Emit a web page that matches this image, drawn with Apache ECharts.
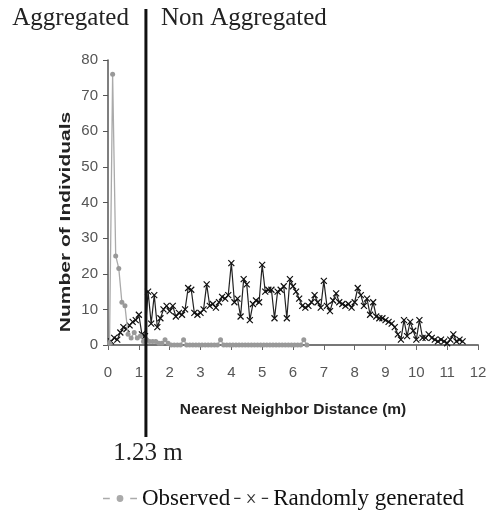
<!DOCTYPE html>
<html>
<head>
<meta charset="UTF-8">
<title>Nearest neighbor distance</title>
<style type="text/css">
	html, body { margin: 0; padding: 0; background: #fff; }
	#main { width: 491px; height: 510px; }
</style>
<script type="text/javascript" src="https://cdn.jsdelivr.net/npm/echarts@6/dist/echarts.min.js"></script>
</head>
<body>
<div id="main"></div>
<script type="text/javascript">
	// observed counts (grey circles)
	var obsDist = [0.05, 0.15, 0.25, 0.35, 0.45, 0.55, 0.65, 0.75, 0.85, 0.95,
		1.05, 1.15, 1.25, 1.35, 1.45, 1.55, 1.65, 1.75, 1.85, 1.95,
		2.05, 2.15, 2.25, 2.35, 2.45, 2.55, 2.65, 2.75, 2.85, 2.95,
		3.05, 3.15, 3.25, 3.35, 3.45, 3.55, 3.65, 3.75, 3.85, 3.95,
		4.05, 4.15, 4.25, 4.35, 4.45, 4.55, 4.65, 4.75, 4.85, 4.95,
		5.05, 5.15, 5.25, 5.35, 5.45, 5.55, 5.65, 5.75, 5.85, 5.95,
		6.05, 6.15, 6.25, 6.35, 6.45];
	var obsCount = [0.5, 76, 25, 21.5, 12, 11, 3, 2, 3.5, 2,
		2.5, 1, 1.5, 1, 1, 1, 0.5, 0.5, 1.5, 0.5,
		0, 0, 0, 0, 1.5, 0, 0, 0, 0, 0,
		0, 0, 0, 0, 0, 0, 1.5, 0, 0, 0,
		0, 0, 0, 0, 0, 0, 0, 0, 0, 0,
		0, 0, 0, 0, 0, 0, 0, 0, 0, 0,
		0, 0, 0, 1.5, 0];

	// randomly generated counts (black x)
	var randDist = [0.1, 0.2, 0.3, 0.4, 0.5, 0.6, 0.7, 0.8, 0.9, 1.0,
		1.1, 1.2, 1.3, 1.4, 1.5, 1.6, 1.7, 1.8, 1.9, 2.0,
		2.1, 2.2, 2.3, 2.4, 2.5, 2.6, 2.7, 2.8, 2.9, 3.0,
		3.1, 3.2, 3.3, 3.4, 3.5, 3.6, 3.7, 3.8, 3.9, 4.0,
		4.1, 4.2, 4.3, 4.4, 4.5, 4.6, 4.7, 4.8, 4.9, 5.0,
		5.1, 5.2, 5.3, 5.4, 5.5, 5.6, 5.7, 5.8, 5.9, 6.0,
		6.1, 6.2, 6.3, 6.4, 6.5, 6.6, 6.7, 6.8, 6.9, 7.0,
		7.1, 7.2, 7.3, 7.4, 7.5, 7.6, 7.7, 7.8, 7.9, 8.0,
		8.1, 8.2, 8.3, 8.4, 8.5, 8.6, 8.7, 8.8, 8.9, 9.0,
		9.1, 9.2, 9.3, 9.4, 9.5, 9.6, 9.7, 9.8, 9.9, 10.0,
		10.1, 10.2, 10.3, 10.4, 10.5, 10.6, 10.7, 10.8, 10.9, 11.0,
		11.1, 11.2, 11.3, 11.4, 11.5];
	var randCount = [1, 2, 1.5, 3.5, 5, 4.5, 5.5, 6.5, 7, 8.5,
		3, 2.5, 15, 6, 14, 5, 7.5, 10, 11, 9.5,
		11, 8, 9, 8.5, 10, 16, 15.5, 9, 8.5, 9,
		10, 17, 11, 11.5, 10.5, 12, 13.5, 13, 14, 23,
		12, 13, 8, 18.5, 17, 7, 11.5, 12.5, 12, 22.5,
		15, 15.5, 15.5, 7.5, 15, 15.5, 16.5, 7.5, 18.5, 16.5,
		15, 13, 11, 10.5, 11, 12, 14, 12, 10.5, 18,
		11, 9.5, 12.5, 14.5, 12, 11.5, 11, 11.5, 10.5, 12,
		16, 14, 11, 13, 8.5, 12, 8, 7.5, 7.5, 7,
		6.5, 6, 5, 3, 1.5, 7, 2.5, 6.5, 4, 1.5,
		7, 2, 2, 3, 2, 1.5, 1, 1.5, 1, 0.5,
		1.5, 3, 1, 1.5, 1];

	var cutoff = 1.23;

	var chart = echarts.init(document.getElementById('main'));

	var obsIcon = 'path://M2,6.4h6v1.2h-6z M26,6.4h6v1.2h-6z M17,4a3,3 0 1,0 0.01,0z';
	var randIcon = 'path://M1,6.4h6v1.1h-6z M27,6.4h6v1.1h-6z M13,3h1.4l6.6,8h-1.4z M19.6,3h1.4l-6.6,8h-1.4z';

	var option = {
		animation: false,
		grid: { left: 108, right: 13, top: 60, bottom: 165 },
		legend: {
			left: 98,
			top: 482,
			itemWidth: 34,
			itemHeight: 14,
			itemGap: 4,
			textStyle: { fontFamily: 'Liberation Serif', fontSize: 23, color: '#111' },
			data: [
				{ name: 'Observed', icon: obsIcon, itemStyle: { color: '#aaa', borderWidth: 0 } },
				{ name: 'Randomly generated', icon: randIcon, itemStyle: { color: '#333', borderWidth: 0 } }
			]
		},
		xAxis: {
			type: 'value',
			min: 0,
			max: 12,
			interval: 1,
			name: 'Nearest Neighbor Distance (m)',
			nameLocation: 'middle',
			nameGap: 57,
			nameTextStyle: { fontFamily: 'Liberation Sans', fontWeight: 'bold', fontSize: 15.5, color: '#222' },
			axisLine: { onZero: false, lineStyle: { color: '#777', width: 2 } },
			axisTick: { length: 5, lineStyle: { color: '#666' } },
			axisLabel: { margin: 20, fontFamily: 'Liberation Sans', fontSize: 15, color: '#555' },
			splitLine: { show: false }
		},
		yAxis: {
			type: 'value',
			min: 0,
			max: 80,
			interval: 10,
			axisLine: { show: true, lineStyle: { color: '#555', width: 1.5 } },
			axisTick: { show: true, length: 5, lineStyle: { color: '#555' } },
			axisLabel: { margin: 10, fontFamily: 'Liberation Sans', fontSize: 15, color: '#555' },
			splitLine: { show: false }
		},
		series: [
			{
				name: 'Randomly generated',
				type: 'line',
				data: randDist.map(function (d, i) { return [d, randCount[i]]; }),
				symbol: 'path://M0,0L10,10M10,0L0,10',
				symbolSize: 6,
				itemStyle: { color: '#111', borderColor: '#111', borderWidth: 1.2 },
				lineStyle: { color: '#222', width: 1.2 },
				z: 2
			},
			{
				name: 'Observed',
				type: 'line',
				data: obsDist.map(function (d, i) { return [d, obsCount[i]]; }),
				symbol: 'circle',
				symbolSize: 5,
				itemStyle: { color: '#999' },
				lineStyle: { color: '#aaa', width: 1.3 },
				z: 3
			}
		]
	};
	chart.setOption(option);

	// the 1.23 m cut-off line and its labels, placed from the axis scale
	var lx = chart.convertToPixel({ xAxisIndex: 0 }, cutoff);
	chart.setOption({
		graphic: [
			{
				type: 'line',
				shape: { x1: lx, y1: 9, x2: lx, y2: 437 },
				style: { stroke: '#111', lineWidth: 3 },
				z: 10
			},
			{
				type: 'text',
				x: lx - 17,
				y: 18,
				style: { text: 'Aggregated', fontFamily: 'Liberation Serif', fontSize: 25, fill: '#222', textAlign: 'right', textVerticalAlign: 'middle' }
			},
			{
				type: 'text',
				x: lx + 15,
				y: 18,
				style: { text: 'Non Aggregated', fontFamily: 'Liberation Serif', fontSize: 25, fill: '#222', textAlign: 'left', textVerticalAlign: 'middle' }
			},
			{
				type: 'text',
				x: lx + 2,
				y: 453,
				style: { text: cutoff + ' m', fontFamily: 'Liberation Serif', fontSize: 25, fill: '#222', textAlign: 'center', textVerticalAlign: 'middle' }
			},
			{
				type: 'text',
				x: 66,
				y: 222,
				rotation: Math.PI / 2,
				scaleX: 1.4,
				style: { text: 'Number of Individuals', fontFamily: 'Liberation Sans', fontWeight: 'bold', fontSize: 15, fill: '#222', textAlign: 'center', textVerticalAlign: 'middle' }
			}
		]
	});
</script>
</body>
</html>
